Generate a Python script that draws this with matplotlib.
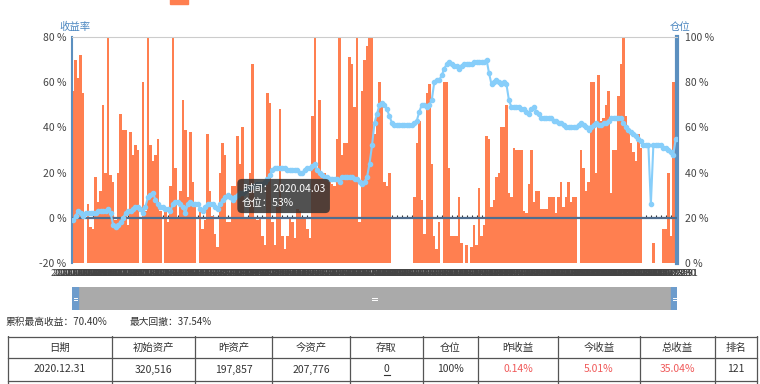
import matplotlib.pyplot as plt
from matplotlib.patches import Rectangle
import numpy as np
import pandas as pd

plt.rcParams['font.family'] = ['Noto Sans CJK SC', 'DejaVu Sans']

# trading days of 2020 (weekdays minus exchange holidays)
holidays = ['2020-01-24', '2020-01-27', '2020-01-28', '2020-01-29', '2020-01-30',
            '2020-01-31', '2020-04-06', '2020-05-01', '2020-05-04', '2020-05-05',
            '2020-06-25', '2020-06-26', '2020-10-01', '2020-10-02', '2020-10-05',
            '2020-10-06', '2020-10-07', '2020-10-08']
days = pd.bdate_range('2020-01-02', '2020-12-31')
days = days[~days.isin(pd.to_datetime(holidays))]
date_labels = [d.strftime('%Y.%m.%d') for d in days]

# daily return (%), left axis
returns = [
    56, 70, 62, 72, 55, -20, 6, -4, -5, 18,
    7, 12, 50, 20, 80, 19, 16, -1, 20, 46,
    39, 39, -3, 38, 28, 32, 30, -20, 60, 3,
    80, 32, 25, 28, 35, 3, -20, 4, -2, 14,
    80, 22, 0, 12, 52, 39, 9, 38, 16, 5,
    -20, 4, -5, -1, 37, 12, 1, -7, -13,
    20, 33, 28, -2, -2, 14, 14, 36, 24, 40,
    0, 0, 20, 68, 0, -1, 0, -8, -12, 55,
    51, -2, -12, 5, 48, -8, -14, -8, 0, -2,
    -9, 4, 3, 0, 0, -5, -9, 45, 80, 20,
    52, 20, 20, 18, 16, 15, 14, 35, 80, 28,
    33, 33, 71, 68, 49, 80, -2, 56, 70, 76,
    80, 80,
    37, 46, 60, 49, 16, 14, 20, -20, -20, -20,
    -20, -20, -20, -20, -20, -20,
    9, 33, 43, 8, -7, 55, 59, 24, -8, -14,
    -2, -20, 60, 60, 22, -8, -8, -8, 9, -11,
    -20, -12, -20, -13, -3, -12, 13, -8, -3, 36,
    35, 5, 8, 18, 20, 40, 40, 50, 11, 9,
    31, 30, 30, 30,
    3, 2, 15, 30, 7, 12, 12, 4, 4, 4,
    9, 9, 9, 2, 9, 16, 5, 9, 16, 7,
    9, 9, -20, 30, 22, 12, 16, 60, 60, 20,
    63, 43, 44, 50, 56, 11, 30, 30, 54, 68,
    80, 45, 38, 33, 29, 25, 37, 31,
    -20, -20, -20, -20, -11, -20, -20, -20, -5, -5,
    20, -8, 60, 80,
]

# position (%), right axis
position = [
    19, 21, 23, 22, 21, 22, 22, 22, 22, 22,
    23, 23, 23, 23, 24, 22, 17, 16, 17, 18,
    20, 22, 23, 23, 24, 25, 25, 24, 22, 25,
    29, 30, 31, 28, 26, 25, 25, 24, 24, 23,
    26, 27, 27, 26, 25, 22, 26, 27, 26, 26,
    26, 24, 23, 25, 26, 26, 26, 25, 24,
    26, 28, 29, 30, 29, 28, 29, 30, 31, 31,
    32, 33, 33, 34, 34, 35, 35, 35, 36, 37,
    39, 41, 42, 42, 42, 42, 42, 41, 41, 41,
    41, 41, 40, 40, 41, 42, 42, 43, 44, 41,
    40, 39, 38, 38, 37, 37, 37, 37, 36, 38,
    38, 38, 38, 38, 37, 37, 36, 35, 36, 38,
    44, 52,
    62, 66, 70, 71, 70, 68, 65, 62, 61, 61,
    61, 61, 61, 61, 61, 61, 62, 63, 67, 70,
    70, 69, 70, 72, 80, 81, 81, 83, 86, 88,
    89, 88, 87, 87, 86, 87, 88, 88, 88, 88,
    89, 89, 89, 89, 89, 90, 84, 79, 80, 81,
    80, 79, 80, 79, 72, 69, 69, 69, 69, 68,
    68, 67, 66, 68, 69, 67, 66, 64, 64, 64,
    64, 64, 63, 63, 62, 62, 61, 60, 60, 60,
    60, 60, 61, 62, 61, 60, 59, 60, 61, 62,
    61, 61, 62, 62, 63, 64, 64, 64, 64, 64,
    62, 60, 59, 58, 57, 56, 55, 54, 52, 52,
    52, 26, 52, 52, 52, 52, 51, 51, 50, 49,
    48, 55,
]

table_header = ['日期', '初始资产', '昨资产', '今资产', '存取', '仓位', '昨收益', '今收益', '总收益', '排名']
table_row = ['2020.12.31', '320,516', '197,857', '207,776', '0', '100%', '0.14%', '5.01%', '35.04%', '121']
red_cols = [6, 7, 8]

W, H = 760, 384
fig = plt.figure(figsize=(W / 100, H / 100), dpi=100)

x = np.arange(len(returns))
ax = fig.add_axes([72 / W, 1 - 263 / H, 605 / W, 226 / H])
ax.vlines(x[::2], 0, 1.3, color='#333333', lw=0.8, zorder=1)
ax.bar(x, np.array(returns) + 20, bottom=-20, width=1.0, color='#ff7f50', zorder=2)
ax.axhline(0, color='#4f6d8f', lw=1.6, zorder=3)
ax.set_xlim(-0.5, len(returns) - 0.5)
ax.set_ylim(-20, 80)
yt = [-20, 0, 20, 40, 60, 80]
ax.set_yticks(yt)
ax.set_yticklabels([f'{v} %' for v in yt], color='#444444', fontsize=7.5)
# every date is labelled, so the labels pile up into one grey band
ax.set_xticks(x)
ax.set_xticklabels(date_labels, fontsize=6.5, color='#444444')
ax.tick_params(axis='x', length=0, pad=4)
ax.tick_params(axis='y', length=0, pad=4)
ax.spines['bottom'].set_visible(False)
ax.spines['top'].set_color('#cccccc')
ax.spines['top'].set_linewidth(0.8)
ax.spines['left'].set_color('#5b8fbf')
ax.spines['left'].set_linewidth(1.5)
ax.spines['right'].set_color('#5b8fbf')
ax.spines['right'].set_linewidth(3)

ax2 = ax.twinx()
ax2.plot(x, position, color='#87cefa', lw=1.5, marker='o', ms=3.0, zorder=4)
ax2.set_ylim(0, 100)
rt = [0, 20, 40, 60, 80, 100]
ax2.set_yticks(rt)
ax2.set_yticklabels([f'{v} %' for v in rt], color='#444444', fontsize=7.5)
ax2.tick_params(axis='y', length=0, pad=6)
for s in ax2.spines.values():
    s.set_visible(False)

fig.text(75 / W, 1 - 27 / H, '收益率', color='#4a86c0', fontsize=7.5, ha='center', va='center')
fig.text(680 / W, 1 - 27 / H, '仓位', color='#4a86c0', fontsize=7.5, ha='center', va='center')

# cut legend marker at top
fig.patches.append(Rectangle((170 / W, 1 - 4 / H), 18 / W, 6 / H, transform=fig.transFigure,
                             color='#ff7f50', figure=fig))

# tooltip
fig.text(242 / W, 1 - 196 / H, '时间：2020.04.03\n仓位：53%', color='white', fontsize=7.5,
         va='center', ha='left', linespacing=1.6,
         bbox=dict(boxstyle='round,pad=0.45', fc='#333333', ec='none', alpha=0.85))

# zoom slider
sl = fig.add_axes([72 / W, 1 - 310 / H, 605 / W, 23 / H])
sl.set_xlim(0, 605)
sl.set_ylim(0, 23)
sl.axis('off')
sl.add_patch(Rectangle((0, 0), 605, 23, color='#aaaaaa'))
sl.add_patch(Rectangle((0, 0), 6, 23, color='#6d9ccc'))
sl.add_patch(Rectangle((599, 0), 6, 23, color='#6d9ccc'))
for yy in (10.5, 12.5):
    sl.plot([300, 305], [yy, yy], color='white', lw=0.7)
    sl.plot([1.5, 4.5], [yy, yy], color='white', lw=0.7)
    sl.plot([600.5, 603.5], [yy, yy], color='white', lw=0.7)

fig.text(5 / W, 1 - 322 / H, '累积最高收益：70.40%', fontsize=7, color='#333333', va='center')
fig.text(130 / W, 1 - 322 / H, '最大回撤：37.54%', fontsize=7, color='#333333', va='center')

# table
edges = [8, 112, 195, 272, 350, 423, 478, 558, 640, 715, 757]
tb = fig.add_axes([0, 0, 1, 48 / H])
tb.set_xlim(0, W)
tb.set_ylim(384, 336)
tb.axis('off')
for yy in (336.5, 358, 381):
    tb.plot([edges[0], edges[-1]], [yy, yy], color='#555555', lw=0.9)
for xx in edges:
    tb.plot([xx, xx], [336, 384], color='#555555', lw=0.9)
for i, (h, v) in enumerate(zip(table_header, table_row)):
    cx = (edges[i] + edges[i + 1]) / 2
    tb.text(cx, 347.5, h, ha='center', va='center', fontsize=7.5, color='#333333')
    col = '#f05a5a' if i in red_cols else '#333333'
    tb.text(cx, 369.5, v, ha='center', va='center', fontsize=7.5, color=col)
    if h == '存取':
        tb.plot([cx - 3, cx + 3], [375, 375], color='#333333', lw=0.8)

fig.savefig('out.png', dpi=100)
